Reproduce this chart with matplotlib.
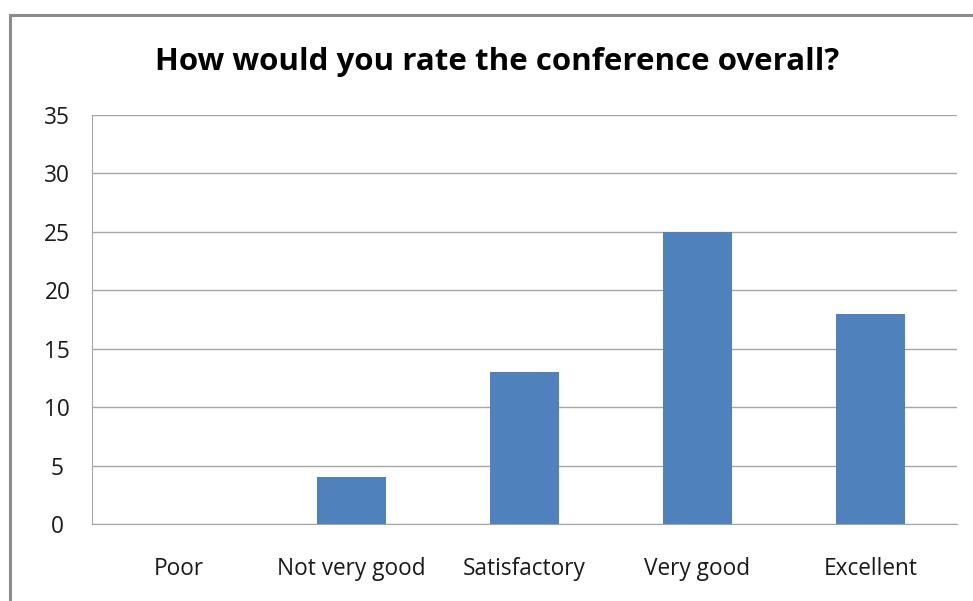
import matplotlib.pyplot as plt
from matplotlib.patches import Rectangle

# survey answers
categories = ['Poor', 'Not very good', 'Satisfactory', 'Very good', 'Excellent']
counts = [0, 4, 13, 25, 18]
yticks = [0, 5, 10, 15, 20, 25, 30, 35]

plt.rcParams['font.family'] = ['Open Sans', 'DejaVu Sans']

fig = plt.figure(figsize=(9.73, 6.01), dpi=100)
ax = fig.add_axes([0.0946, 0.128, 0.889, 0.681])

# outer chart frame (only top and left edges show in the crop)
fig.patches.append(Rectangle((10 / 973, -0.1), 1.2, (601 - 15) / 601 + 0.1,
                             transform=fig.transFigure, fill=False,
                             edgecolor='#8c8c8c', linewidth=2.2))

ax.bar(range(len(categories)), counts, width=0.4, color='#4f81bd', zorder=3)
ax.set_xlim(-0.5, len(categories) - 0.5)
ax.set_ylim(0, 35)
ax.set_yticks(yticks)
ax.set_xticks(range(len(categories)))
ax.set_xticklabels(categories)
ax.yaxis.grid(True, color='#a6a6a6', linewidth=1)
ax.set_axisbelow(True)
for side in ['top', 'right']:
    ax.spines[side].set_visible(False)
for side in ['left', 'bottom']:
    ax.spines[side].set_color('#a6a6a6')
ax.tick_params(length=0, labelsize=16.3, colors='#1a1a1a')
ax.tick_params(axis='y', pad=25)
ax.tick_params(axis='x', pad=24)
for lab in ax.get_yticklabels():
    lab.set_horizontalalignment('center')

fig.suptitle('How would you rate the conference overall?', x=0.511, y=0.922,
             fontsize=22.5, fontweight='bold')

fig.savefig('out.png', dpi=100)
